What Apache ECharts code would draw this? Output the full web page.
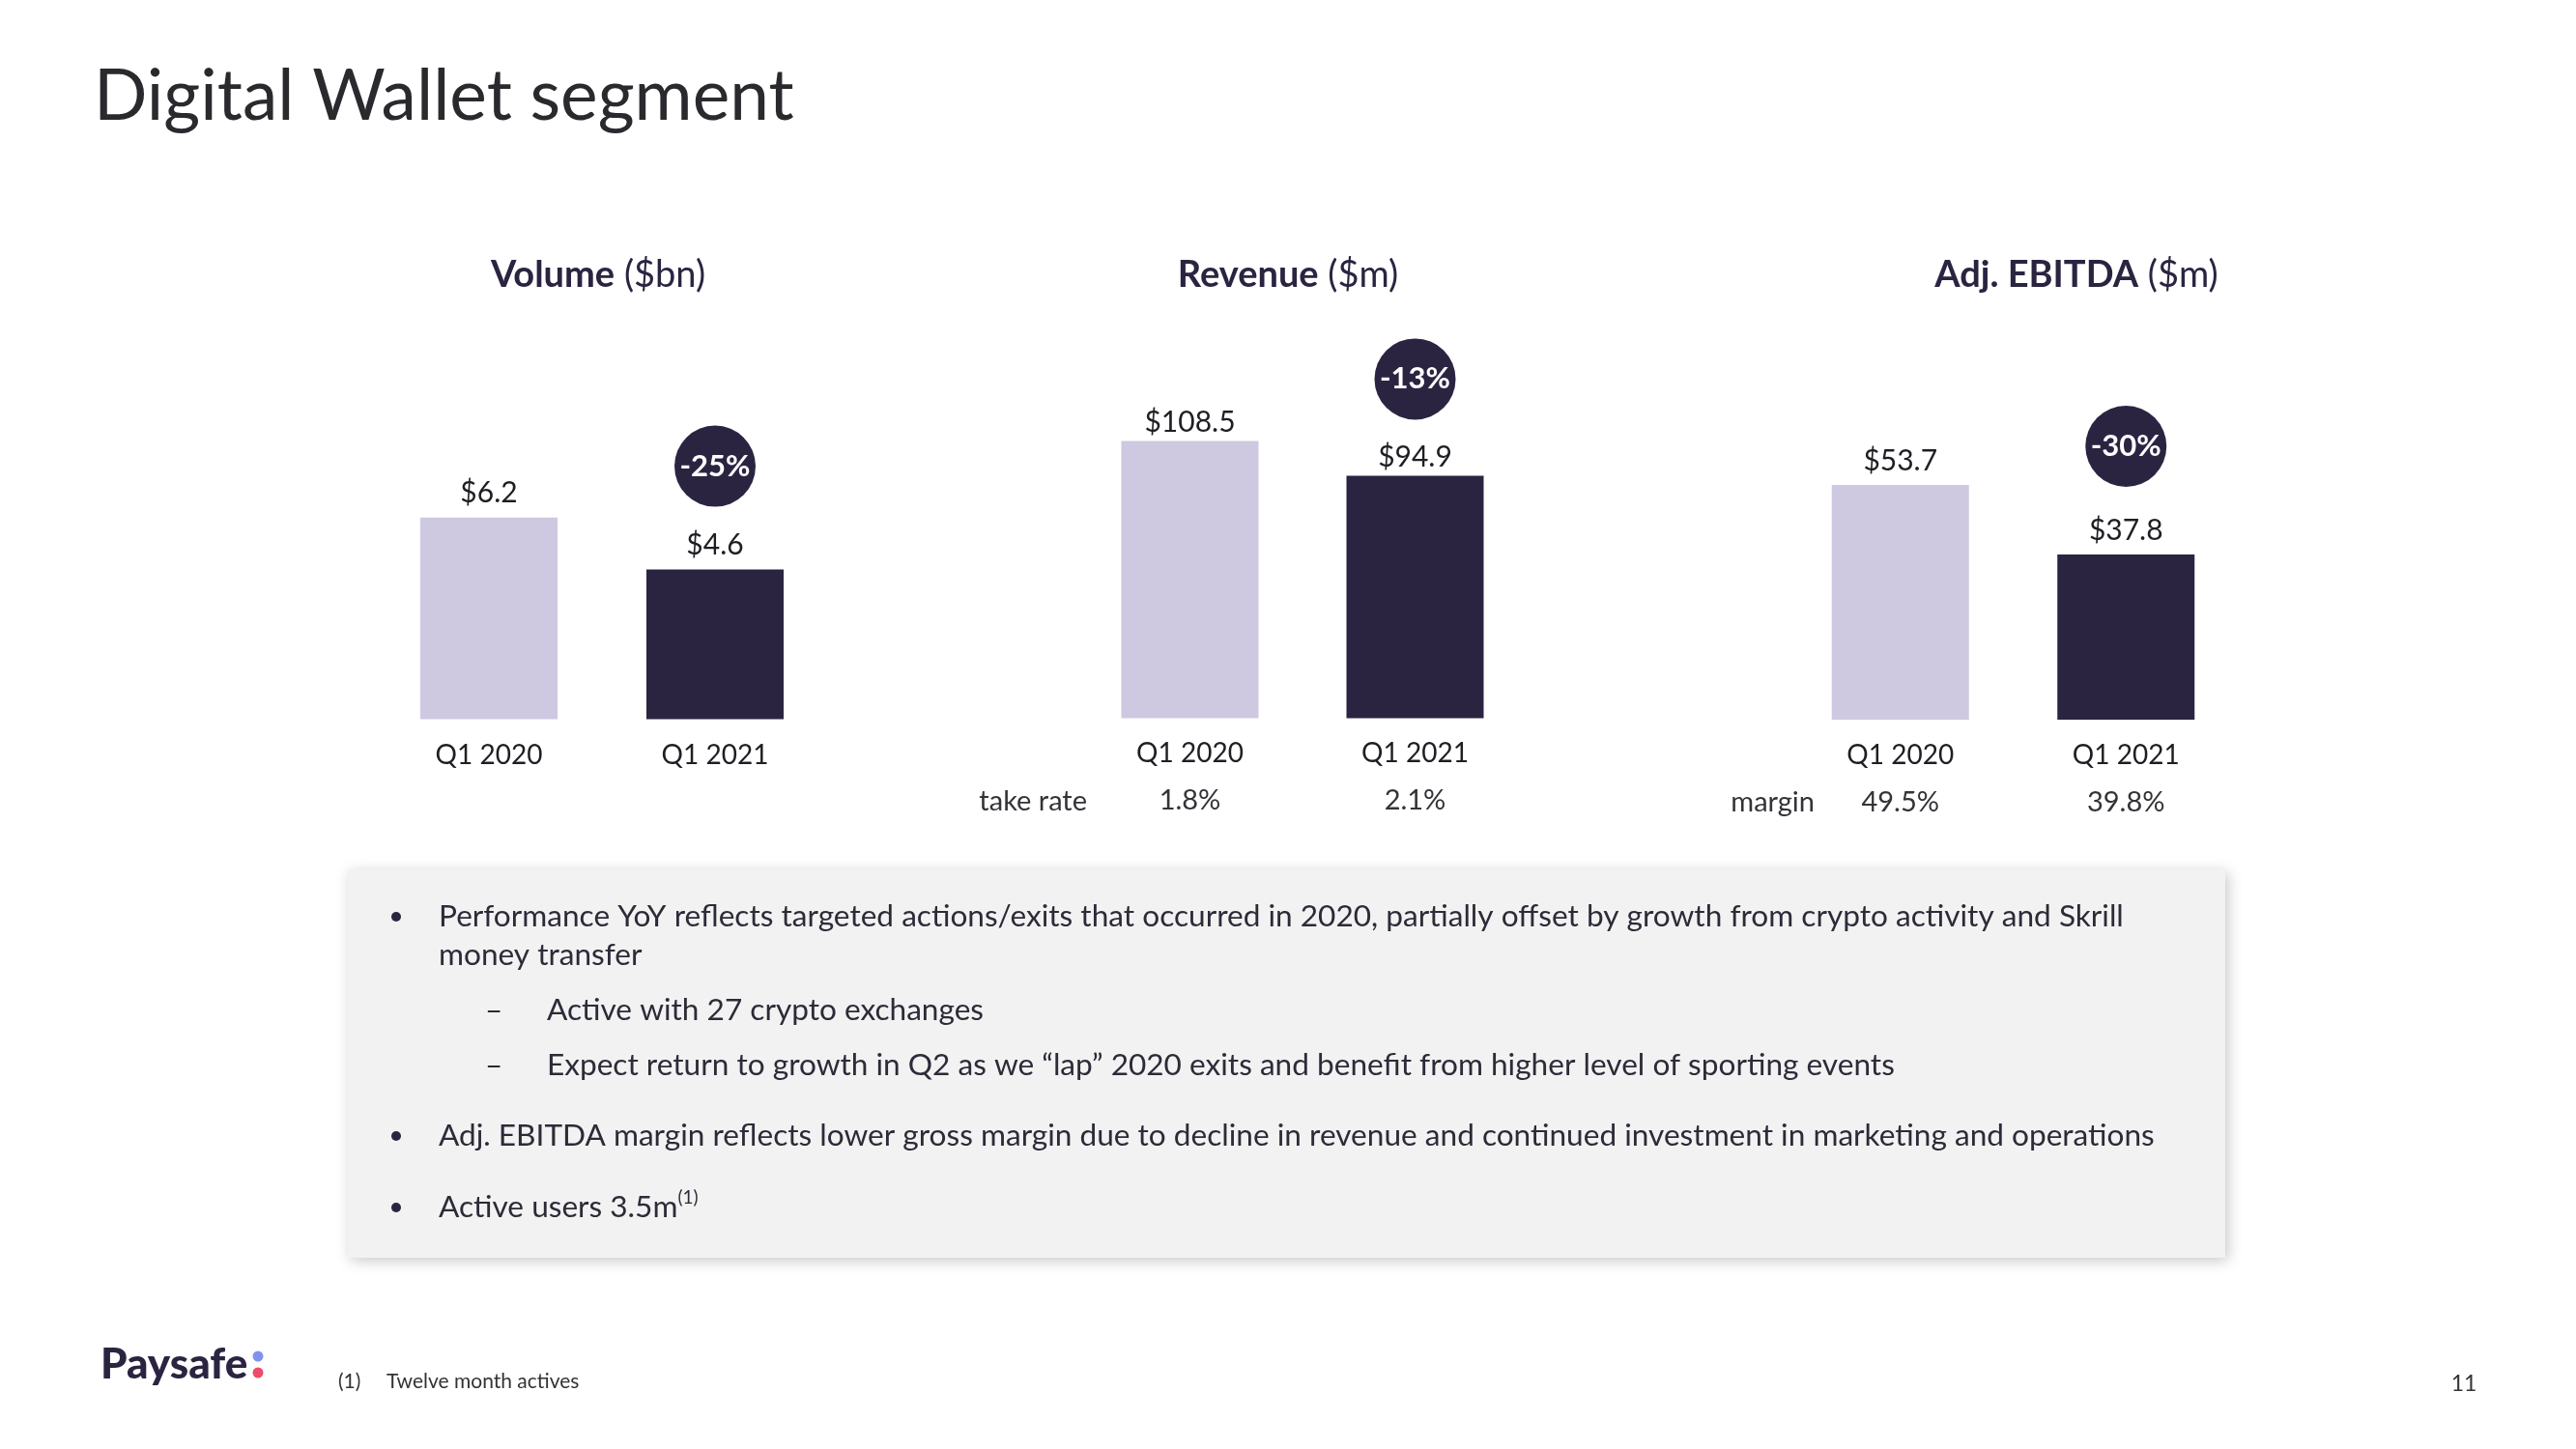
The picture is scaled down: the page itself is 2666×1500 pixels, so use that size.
<!DOCTYPE html>
<html><head><meta charset="utf-8">
<script src="https://cdn.jsdelivr.net/npm/echarts@6/dist/echarts.min.js"></script>
<style>html,body{margin:0;padding:0;background:#fff}#c{width:2666px;height:1500px}</style>
</head><body><div id="c"></div>
<script>
// ---- data ----
const categories = ['Q1 2020', 'Q1 2021'];
const volume = [6.2, 4.6];
const revenue = [108.5, 94.9];
const ebitda = [53.7, 37.8];
const changes = ['-25%', '-13%', '-30%'];
const takeRate = ['1.8%', '2.1%'];
const marginPct = ['49.5%', '39.8%'];
const chartTitles = [['Volume', ' ($bn)'], ['Revenue', ' ($m)'], ['Adj. EBITDA', ' ($m)']];
const bullets = [
  'Performance YoY reflects targeted actions/exits that occurred in 2020, partially offset by growth from crypto activity and Skrill',
  'money transfer',
  'Active with 27 crypto exchanges',
  'Expect return to growth in Q2 as we \u201clap\u201d 2020 exits and benefit from higher level of sporting events',
  'Adj. EBITDA margin reflects lower gross margin due to decline in revenue and continued investment in marketing and operations',
  'Active users 3.5m'
];

const FONT = 'Lato, "Noto Sans", sans-serif';
const LIGHT = '#cec8e0', DARK = '#2b2441', TXT = '#1e1e24', GREY = '#333338';

const panels = [
  {data: volume, max: 8, top: 475, h: 269.6, left: 389, w: 468, off: -107, dist: 10, sub: null},
  {data: revenue, max: 120, top: 426, h: 317.4, left: 1115, w: 466, off: -100, dist: 4, sub: {name: 'take rate', vals: takeRate, gap: -10}},
  {data: ebitda, max: 60, top: 473.5, h: 271.5, left: 1850, w: 467, off: -112, dist: 10, sub: {name: 'margin', vals: marginPct, gap: -28}}
];

const grid = [], xAxis = [], yAxis = [], series = [];
panels.forEach((p, i) => {
  grid.push({left: p.left, top: p.top, width: p.w, height: p.h, containLabel: false});
  xAxis.push({type: 'category', gridIndex: i, data: categories,
    axisLine: {show: false}, axisTick: {show: false},
    axisLabel: {color: TXT, fontSize: 28, fontFamily: FONT, margin: 23}});
  yAxis.push({type: 'value', gridIndex: i, min: 0, max: p.max, show: false, splitLine: {show: false}});
  if (p.sub) {
    xAxis.push({type: 'category', gridIndex: i, data: p.sub.vals, position: 'bottom', offset: 86,
      axisLine: {show: false}, axisTick: {show: false},
      name: p.sub.name, nameLocation: 'start', nameGap: p.sub.gap,
      nameTextStyle: {color: GREY, fontSize: 29, fontFamily: FONT, align: 'right', verticalAlign: 'middle'},
      axisLabel: {color: GREY, fontSize: 29, fontFamily: FONT, margin: -15}});
  }
  series.push({type: 'bar', xAxisIndex: xAxis.length - (p.sub ? 2 : 1), yAxisIndex: i, barWidth: 142,
    data: p.data.map((v, k) => ({value: v, itemStyle: {color: k === 0 ? LIGHT : DARK}})),
    label: {show: true, position: 'top', distance: p.dist, color: TXT, fontSize: 30, fontFamily: FONT,
      formatter: d => '$' + d.value.toFixed(1)},
    markPoint: {symbol: 'circle', symbolSize: 84, symbolOffset: [0, p.off], itemStyle: {color: DARK},
      label: {show: true, color: '#fff', fontSize: 31, fontWeight: 'bold', fontFamily: FONT, formatter: () => changes[i]},
      data: [{coord: [categories[1], p.data[1]], value: changes[i]}]},
    silent: true, animation: false});
});

const graphic = [];
function txt(x, y, text, o) {
  const s = Object.assign({text, x, y, fontFamily: FONT, fontSize: 31.6, fill: TXT,
    textAlign: 'left', align: 'left', textVerticalAlign: 'middle', verticalAlign: 'middle'}, o || {});
  if (s.textAlign) s.align = s.textAlign;
  graphic.push({type: 'text', style: s, silent: true});
}
// box
graphic.push({type: 'rect', shape: {x: 360, y: 900, width: 1943, height: 402},
  style: {fill: '#f2f2f2', shadowBlur: 14, shadowColor: 'rgba(0,0,0,0.22)', shadowOffsetX: 3, shadowOffsetY: 3}, silent: true});
// title
txt(97, 100, 'Digital Wallet segment', {fontSize: 73, fill: '#2a2a2e'});
// chart titles
const tX = [619, 1333, 2149];
chartTitles.forEach((t, i) => {
  txt(tX[i], 285, '{b|' + t[0] + '}{n|' + t[1] + '}', {textAlign: 'center',
    rich: {b: {fontFamily: FONT, fontSize: 38, fontWeight: 'bold', fill: DARK, color: DARK},
           n: {fontFamily: FONT, fontSize: 38, fill: DARK, color: DARK}}});
});
// bullets
const BT = '#2d2b38';
const bl = [[454, 949], [454, 989], [566, 1046], [566, 1103], [454, 1176], [454, 1250]];
bullets.forEach((b, i) => {
  if (i === 5) {
    txt(bl[i][0], bl[i][1], '{m|' + b + '}{s|(1)}', {fill: BT,
      rich: {m: {fontFamily: FONT, fontSize: 31.6, fill: BT, color: BT, lineHeight: 40},
             s: {fontFamily: FONT, fontSize: 19, fill: BT, color: BT, verticalAlign: 'top', lineHeight: 24}}});
  } else txt(bl[i][0], bl[i][1], b, {fill: BT});
});
[949, 1176, 1250].forEach(y => graphic.push({type: 'circle', shape: {cx: 410, cy: y, r: 5}, style: {fill: DARK}, silent: true}));
[1046, 1103].forEach(y => txt(502, y, '\u2013', {fill: BT}));
// footer
txt(104, 1413, 'Paysafe', {fontSize: 44, fontWeight: 900, fill: DARK});
graphic.push({type: 'circle', shape: {cx: 267, cy: 1404, r: 5.5}, style: {fill: '#7f93ee'}, silent: true});
graphic.push({type: 'circle', shape: {cx: 267, cy: 1421, r: 5.5}, style: {fill: '#ee4b6a'}, silent: true});
txt(350, 1430, '(1)', {fontSize: 21, fill: '#333'});
txt(400, 1430, 'Twelve month actives', {fontSize: 21, fill: '#333'});
txt(2550, 1433, '11', {fontSize: 23, fill: '#333', textAlign: 'center'});

const chart = echarts.init(document.getElementById('c'), null, {renderer: 'canvas'});
chart.setOption({backgroundColor: '#fff', animation: false, grid, xAxis, yAxis, series, graphic});
</script></body></html>
